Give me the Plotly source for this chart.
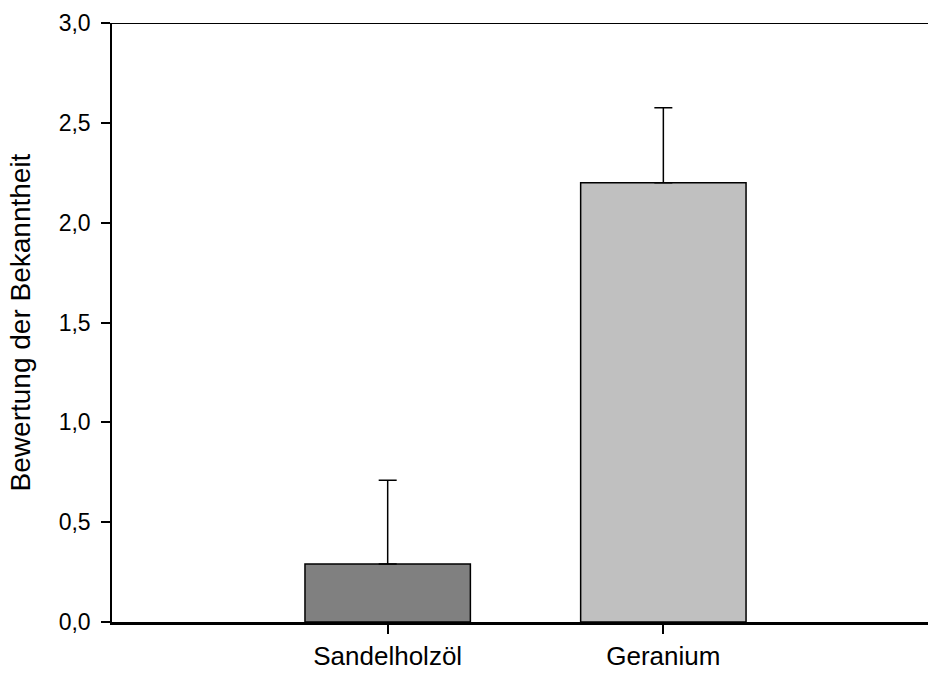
import plotly.graph_objects as go

categories = ["Sandelholzöl", "Geranium"]
x_positions = [1, 2]
values = [0.29, 2.20]
errors = [0.42, 0.375]
bar_colors = ["#808080", "#c0c0c0"]
y_ticks = [0.0, 0.5, 1.0, 1.5, 2.0, 2.5, 3.0]
y_tick_labels = ["0,0", "0,5", "1,0", "1,5", "2,0", "2,5", "3,0"]

fig = go.Figure()
fig.add_trace(go.Bar(
    x=x_positions, y=values, width=0.6,
    marker=dict(color=bar_colors, line=dict(color="black", width=1.5)),
    error_y=dict(type="data", array=errors, arrayminus=[0, 0], symmetric=False,
                 color="black", thickness=1.5, width=9),
    showlegend=False,
))

font = "Liberation Sans, Arial, sans-serif"
fig.update_layout(
    width=928, height=673,
    margin=dict(l=112, r=0, t=23, b=51),
    plot_bgcolor="white", paper_bgcolor="white",
    font=dict(family=font, size=23, color="black"),
    xaxis=dict(
        range=[0, 2.96], tickvals=x_positions, ticktext=categories,
        ticks="outside", ticklen=9, tickwidth=1.5, tickcolor="black",
        showline=True, linecolor="black", linewidth=2.5,
        showgrid=False, zeroline=False, automargin=False,
        tickfont=dict(size=26), ticklabelstandoff=0,
    ),
    yaxis=dict(
        range=[0, 3.0], tickvals=y_ticks, ticktext=y_tick_labels,
        ticks="outside", ticklen=9, tickwidth=1.5, tickcolor="black",
        showline=True, linecolor="black", linewidth=1.5,
        showgrid=False, zeroline=False, automargin=False,
        title=dict(text="Bewertung der Bekanntheit", font=dict(size=28), standoff=20),
        tickfont=dict(size=23), ticklabelstandoff=6,
    ),
    shapes=[dict(type="line", xref="paper", yref="y", x0=0, x1=1, y0=3.0, y1=3.0,
                 line=dict(color="black", width=2))],
)

fig.write_html("out.html")
